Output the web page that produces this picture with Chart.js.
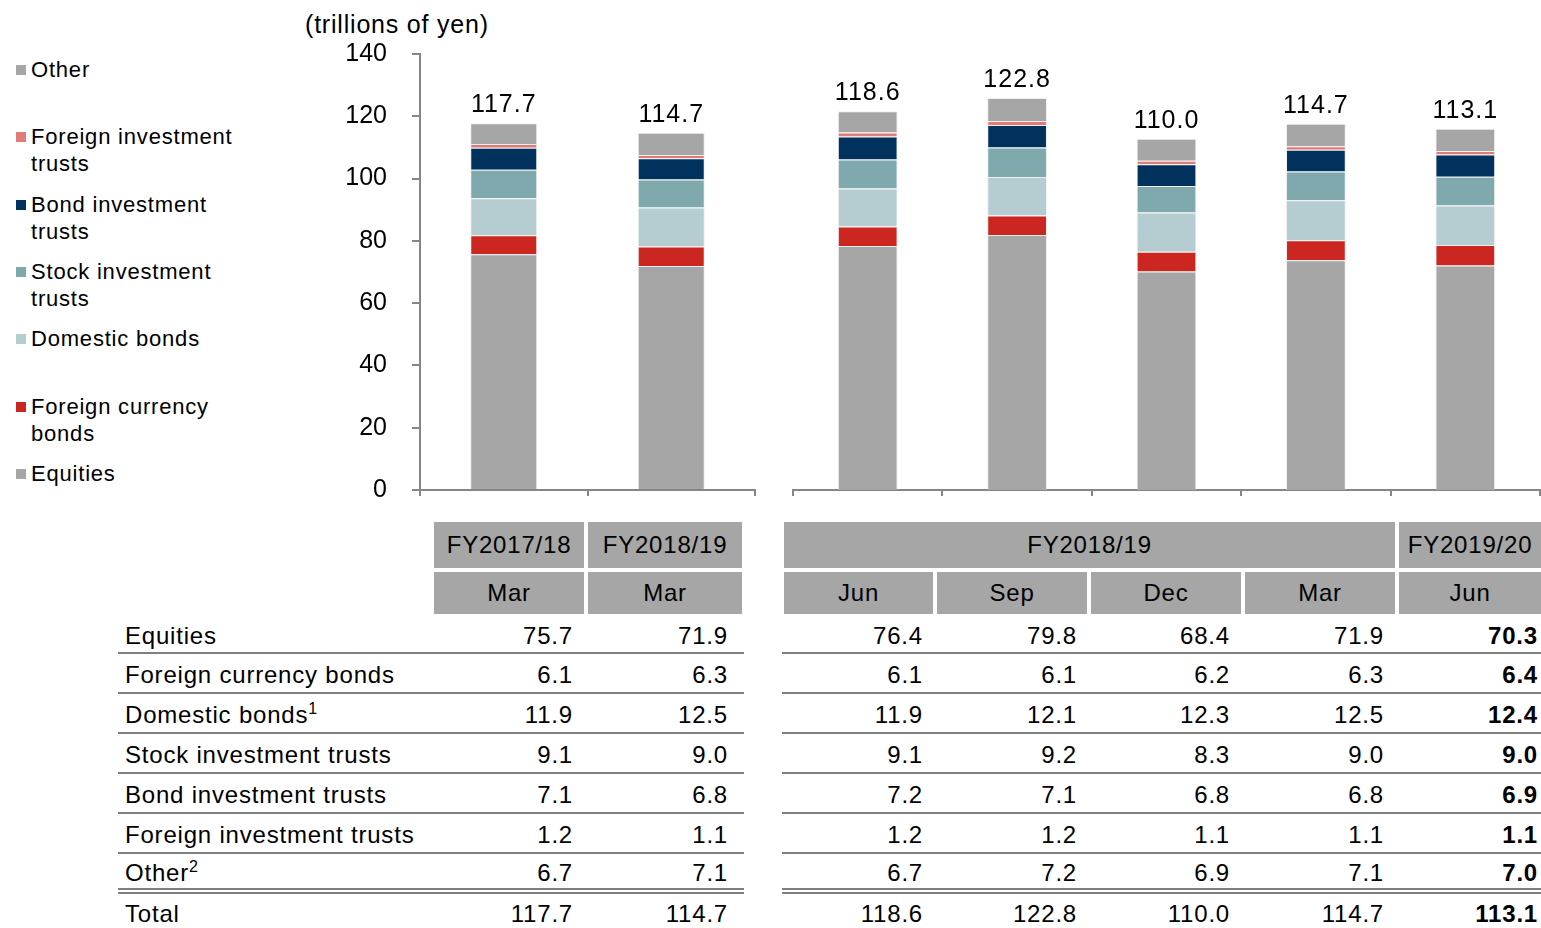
<!DOCTYPE html>
<html>
<head>
<meta charset="utf-8">
<script src="https://cdn.jsdelivr.net/npm/chart.js@4.4.1/dist/chart.umd.min.js"></script>
<style>
  body { margin: 0; background: #fff; width: 1541px; height: 928px; overflow: hidden; position: relative;
         font-family: "Liberation Sans", Arial, sans-serif; color: #000; }
  #unit { position: absolute; left: 305px; top: 9px; font-size: 25px; line-height: 30px; white-space: nowrap;
          letter-spacing: 0.8px; }
  #legend { position: absolute; left: 16px; top: 56px; width: 235px; font-size: 22px; line-height: 27px;
            letter-spacing: 0.8px; }
  #legend .item { height: 67.33px; display: flex; align-items: flex-start; }
  #legend .sw { width: 10px; height: 10px; margin-top: 9px; margin-right: 5px; flex: none; }
  .wrap { position: absolute; top: 40px; height: 470px; }
  #leftWrap { left: 300px; width: 460px; }
  #rightWrap { left: 780px; width: 761px; }
  #tbl { position: absolute; left: 118px; top: 520px; border-collapse: separate; border-spacing: 0;
         table-layout: fixed; width: 1425px; font-size: 24px; letter-spacing: 0.8px; }
  #tbl th { background: #a6a6a6; background-clip: padding-box; border: 2px solid #fff; font-weight: normal;
            padding: 0; text-align: center; }
  #tbl tr.h1 th { height: 46px; }
  #tbl tr.h2 th { height: 42px; }
  #tbl td { padding: 0; white-space: nowrap; }
  #tbl tr.d td { height: 35px; padding-top: 3px; text-align: right; }
  #tbl tr.d.first td { height: 33px; }
  #tbl tr.d td.ln { border-bottom: 2px solid #7f7f7f; }
  #tbl tr.d.dbl td.ln { height: 31px; border-bottom: 6px double #7f7f7f; }
  #tbl tr.d.tot td { height: 33px; }
  #tbl tr.d td.lab { text-align: left; padding-left: 7px; }
  #tbl tr.d td.bold { font-weight: bold; }
  #tbl sup { font-size: 16px; vertical-align: 9px; line-height: 0; }
</style>
</head>
<body>
<div id="unit">(trillions of yen)</div>
<div id="legend"></div>
<div class="wrap" id="leftWrap"><canvas id="leftChart"></canvas></div>
<div class="wrap" id="rightWrap"><canvas id="rightChart"></canvas></div>
<table id="tbl"></table>

<script>
const periods = ["Mar", "Mar", "Jun", "Sep", "Dec", "Mar", "Jun"];
const fiscalYears = ["FY2017/18", "FY2018/19", "FY2018/19", "FY2018/19", "FY2018/19", "FY2018/19", "FY2019/20"];

const equities = [75.7, 71.9, 76.4, 79.8, 68.4, 71.9, 70.3];
const foreignCurrencyBonds = [6.1, 6.3, 6.1, 6.1, 6.2, 6.3, 6.4];
const domesticBonds = [11.9, 12.5, 11.9, 12.1, 12.3, 12.5, 12.4];
const stockInvestmentTrusts = [9.1, 9.0, 9.1, 9.2, 8.3, 9.0, 9.0];
const bondInvestmentTrusts = [7.1, 6.8, 7.2, 7.1, 6.8, 6.8, 6.9];
const foreignInvestmentTrusts = [1.2, 1.1, 1.2, 1.2, 1.1, 1.1, 1.1];
const other = [6.7, 7.1, 6.7, 7.2, 6.9, 7.1, 7.0];
const totals = [117.7, 114.7, 118.6, 122.8, 110.0, 114.7, 113.1];

const seriesNames = ["Equities", "Foreign currency bonds", "Domestic bonds", "Stock investment trusts",
  "Bond investment trusts", "Foreign investment trusts", "Other"];
const seriesNotes = ["", "", "1", "", "", "", "2"];
const seriesValues = [equities, foreignCurrencyBonds, domesticBonds, stockInvestmentTrusts,
  bondInvestmentTrusts, foreignInvestmentTrusts, other];
const seriesColours = ["#a6a6a6", "#cc2621", "#b5cdd1", "#80a9ad", "#00325e", "#e07b77", "#a6a6a6"];

const axisGrey = "#868686";
const splitAt = 2; // first two bars sit on their own axis segment

Chart.defaults.font.family = '"Liberation Sans", Arial, sans-serif';
Chart.defaults.color = "#000";

// legend, top of stack first
document.getElementById("legend").innerHTML = seriesNames
  .map((name, k) => ({ name, colour: seriesColours[k] }))
  .reverse()
  .map((s) => `<div class="item"><span class="sw" style="background:${s.colour}"></span><span>${s.name}</span></div>`)
  .join("");

const totalLabels = {
  id: "totalLabels",
  afterDatasetsDraw(chart, args, opts) {
    const ctx = chart.ctx;
    const top = chart.getDatasetMeta(chart.data.datasets.length - 1);
    ctx.save();
    ctx.font = '25px "Liberation Sans", Arial, sans-serif';
    ctx.letterSpacing = "1px";
    ctx.fillStyle = "#000";
    ctx.textAlign = "center";
    ctx.textBaseline = "alphabetic";
    top.data.forEach((bar, i) => {
      ctx.fillText(opts.values[i].toFixed(1), bar.x, bar.y - 11);
    });
    ctx.restore();
  },
};

function makeDatasets(from, to) {
  return seriesNames.map((name, k) => ({
    label: name,
    data: seriesValues[k].slice(from, to),
    backgroundColor: seriesColours[k],
    borderColor: "rgba(225,225,225,0.55)",
    borderWidth: 1,
    barPercentage: 0.4,
    categoryPercentage: 1,
  }));
}

function xScale() {
  return {
    stacked: true,
    ticks: { display: false },
    grid: { drawOnChartArea: false, drawTicks: true, tickLength: 6, color: axisGrey, lineWidth: 2, offset: true },
    border: { color: axisGrey, width: 2 },
    afterFit: function (scale) {
      scale.height = 20;
    },
  };
}

const leftChart = new Chart(document.getElementById("leftChart"), {
  type: "bar",
  data: { labels: periods.slice(0, splitAt), datasets: makeDatasets(0, splitAt) },
  plugins: [totalLabels],
  options: {
    responsive: true,
    maintainAspectRatio: false,
    animation: false,
    layout: { padding: { top: 14, right: 5, left: 0, bottom: 0 } },
    plugins: {
      legend: { display: false },
      tooltip: { enabled: false },
      totalLabels: { values: totals.slice(0, splitAt) },
    },
    scales: {
      x: xScale(),
      y: {
        stacked: true,
        min: 0,
        max: 140,
        ticks: { stepSize: 20, padding: 25, font: { size: 25 }, color: "#000" },
        grid: { drawOnChartArea: false, tickLength: 8, color: axisGrey, lineWidth: 2 },
        border: { color: axisGrey, width: 2 },
        afterFit: function (scale) {
          scale.width = 120;
          scale.paddingTop = 0;
          scale.paddingBottom = 0;
        },
      },
    },
  },
});

const rightChart = new Chart(document.getElementById("rightChart"), {
  type: "bar",
  data: { labels: periods.slice(splitAt), datasets: makeDatasets(splitAt, periods.length) },
  plugins: [totalLabels],
  options: {
    responsive: true,
    maintainAspectRatio: false,
    animation: false,
    layout: { padding: { top: 14, right: 1, left: 13, bottom: 0 } },
    plugins: {
      legend: { display: false },
      tooltip: { enabled: false },
      totalLabels: { values: totals.slice(splitAt) },
    },
    scales: {
      x: xScale(),
      y: { display: false, stacked: true, min: 0, max: 136.5 },
    },
  },
});

// table under the chart
const colWidths = [314, 154, 158, 38, 153, 154, 154, 154, 146];
const numPad = [13, 16, 12, 12, 13, 13, 5];

function yearGroups(from, to) {
  const out = [];
  for (let i = from; i < to; i++) {
    const last = out[out.length - 1];
    if (last && last.text === fiscalYears[i]) last.span++;
    else out.push({ text: fiscalYears[i], span: 1 });
  }
  return out;
}

let html = "<colgroup>" + colWidths.map((w) => `<col style="width:${w}px">`).join("") + "</colgroup>";
html += '<tr class="h1"><td></td>' +
  yearGroups(0, splitAt).map((g) => `<th colspan="${g.span}">${g.text}</th>`).join("") + "<td></td>" +
  yearGroups(splitAt, periods.length).map((g) => `<th colspan="${g.span}">${g.text}</th>`).join("") + "</tr>";
html += '<tr class="h2"><td></td>' +
  periods.slice(0, splitAt).map((p) => `<th>${p}</th>`).join("") + "<td></td>" +
  periods.slice(splitAt).map((p) => `<th>${p}</th>`).join("") + "</tr>";

const tableRows = seriesNames.map((name, k) => ({
  label: name + (seriesNotes[k] ? `<sup>${seriesNotes[k]}</sup>` : ""),
  values: seriesValues[k],
}));
tableRows.push({ label: "Total", values: totals });

tableRows.forEach((row, r) => {
  const isTotal = r === tableRows.length - 1;
  let cls = "d";
  if (r === 0) cls += " first";
  if (r === tableRows.length - 2) cls += " dbl";
  if (isTotal) cls += " tot";
  const cells = row.values.map((v, i) => {
    const c = (isTotal ? "" : "ln") + (i === row.values.length - 1 ? " bold" : "");
    return `<td class="${c}" style="padding-right:${numPad[i]}px">${v.toFixed(1)}</td>`;
  });
  html += `<tr class="${cls}"><td class="lab ${isTotal ? "" : "ln"}">${row.label}</td>` +
    cells.slice(0, splitAt).join("") + "<td></td>" + cells.slice(splitAt).join("") + "</tr>";
});
document.getElementById("tbl").innerHTML = html;
</script>
</body>
</html>
